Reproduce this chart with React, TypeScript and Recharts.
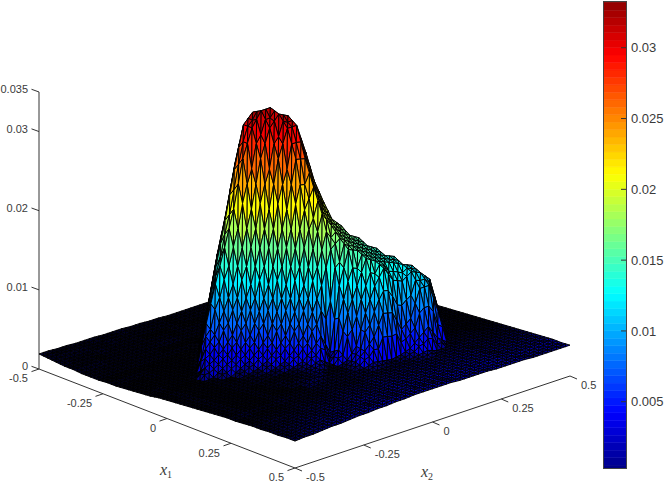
import React from "react";
import { ScatterChart, Scatter, XAxis, YAxis, ReferenceLine, BarChart, Bar } from "recharts";

// Surface heights in units of 1e-4, row = x1 index (-0.5..0.5), column = x2 index (-0.5..0.5)
const h00 = [19,19,18,18,17,17,17,16,16,16,15,15,14,14,13,13,13,13,13,13,13,12,12,12,12,12,12,12,11,11,11];
const h01 = [18,18,18,17,17,16,16,16,15,15,15,14,14,14,13,13,13,13,13,13,13,13,13,13,12,12,12,12,12,12,12];
const h02 = [17,17,16,16,16,16,15,15,15,15,14,14,14,14,13,13,13,13,13,13,13,13,13,12,12,12,12,12,12,12,12];
const h03 = [16,16,16,16,15,15,15,15,15,15,15,15,14,14,14,14,14,14,14,14,14,14,14,14,13,13,13,13,13,13,13];
const h04 = [16,16,16,16,15,15,15,15,15,15,15,15,14,14,14,14,14,14,14,14,14,14,14,14,14,14,14,14,14,14,14];
const h05 = [15,15,15,15,15,15,15,15,15,14,14,14,14,14,14,14,14,14,14,14,14,14,14,15,15,15,15,15,15,15,15];
const h06 = [15,15,15,15,15,15,15,15,15,15,15,15,15,36,40,28,15,15,15,15,15,15,15,15,16,16,16,16,16,16,16];
const h07 = [15,15,15,15,15,15,15,15,15,15,15,20,65,92,94,74,45,16,16,16,16,16,16,16,17,17,17,17,17,17,17];
const h08 = [16,16,16,16,16,16,16,16,16,16,20,72,132,168,173,150,94,48,17,17,17,17,17,18,18,18,18,18,18,18,18];
const h09 = [16,16,16,16,17,17,17,17,17,20,72,132,187,247,270,218,159,95,47,18,18,18,18,18,18,19,19,19,19,19,19];
const h10 = [17,17,17,17,18,18,18,18,20,72,132,187,247,300,312,286,223,157,92,45,19,19,19,19,20,20,20,20,20,20,20];
const h11 = [18,18,18,19,19,19,19,20,72,118,160,205,265,300,318,318,283,216,150,79,35,21,21,21,21,21,21,21,21,21,21];
const h12 = [19,19,20,20,20,20,21,48,62,88,118,160,205,265,300,314,308,270,183,115,60,27,23,23,22,22,22,22,22,22,22];
const h13 = [20,20,21,21,21,21,32,38,48,62,88,118,160,205,265,300,300,262,207,140,91,51,25,24,24,23,23,23,23,23,23];
const h14 = [22,22,23,23,23,23,24,32,38,48,62,88,118,160,205,265,262,230,200,164,119,81,47,26,25,25,25,25,24,24,24];
const h15 = [23,23,24,24,24,24,25,25,32,38,48,62,88,118,160,205,230,200,182,170,146,109,75,43,27,26,26,26,26,25,25];
const h16 = [24,24,25,25,25,25,26,27,29,32,38,48,62,88,118,160,200,182,170,162,155,134,99,68,40,28,27,27,27,26,26];
const h17 = [25,25,26,26,26,26,27,28,29,30,33,38,48,62,88,118,160,170,162,155,149,142,123,92,63,36,28,28,28,27,27];
const h18 = [26,26,27,27,27,27,28,28,29,30,31,34,38,48,62,38,118,160,155,149,142,137,132,113,85,58,31,29,29,28,28];
const h19 = [27,27,28,28,28,28,29,29,30,31,32,33,36,40,32,45,88,118,149,142,137,132,126,121,104,73,33,30,30,29,29];
const h20 = [28,28,29,29,29,29,30,30,30,32,33,34,36,32,32,36,50,88,118,137,118,113,121,116,104,60,31,31,30,30,30];
const h21 = [29,29,30,30,30,30,31,31,31,31,35,35,33,33,33,38,48,62,88,85,60,70,104,104,67,32,32,32,31,31,31];
const h22 = [30,30,31,31,31,31,32,32,32,32,33,33,33,33,34,34,38,36,34,36,40,50,60,42,33,33,33,33,32,32,32];
const h23 = [30,30,31,31,31,31,32,32,32,32,33,33,33,33,34,34,34,34,34,34,36,38,34,34,34,34,34,33,33,33,33];
const h24 = [31,31,32,32,32,32,33,33,33,33,34,34,34,34,35,35,35,35,35,35,35,35,35,35,35,34,34,34,34,34,34];
const h25 = [32,32,33,33,33,33,34,34,34,34,35,35,35,35,36,36,36,36,36,36,36,36,36,36,36,35,35,35,35,35,35];
const h26 = [32,32,33,33,34,34,34,35,35,35,36,36,36,36,37,37,37,37,37,37,37,37,37,37,37,36,36,36,36,36,36];
const h27 = [33,33,34,34,35,35,35,36,36,36,37,37,37,37,38,38,38,38,38,38,38,38,38,38,38,37,37,37,37,37,37];
const h28 = [33,33,34,35,35,36,36,36,37,37,37,38,38,38,39,39,39,39,39,39,39,39,39,39,39,38,38,38,38,38,38];
const h29 = [34,34,35,36,36,37,37,38,38,39,39,40,40,40,41,41,41,41,40,40,40,40,39,39,39,39,38,38,38,38,38];
const h30 = [34,35,35,36,37,37,38,39,39,40,40,41,41,42,42,42,42,42,41,41,41,41,40,40,40,40,39,39,39,39,39];
const heightRows = [h00,h01,h02,h03,h04,h05,h06,h07,h08,h09,h10,h11,h12,h13,h14,h15,h16,h17,h18,h19,h20,h21,h22,h23,h24,h25,h26,h27,h28,h29,h30];

const x1Ticks = [-0.5, -0.25, 0, 0.25, 0.5];
const x2Ticks = [-0.5, -0.25, 0, 0.25, 0.5];
const zTicks = [0, 0.01, 0.02, 0.03, 0.035];
const colorTicks = [0.005, 0.01, 0.015, 0.02, 0.025, 0.03];
const colorMin = 0.00032;
const colorMax = 0.0333;
const levels = 64;

const project = (x1: number, x2: number, z: number) => ({
  x: 39 + 256 * (x1 + 0.5) + 275 * (x2 + 0.5),
  y: 369 + 99 * (x1 + 0.5) - 92 * (x2 + 0.5) - 7915 * z,
});

const clamp = (v: number) => Math.max(0, Math.min(1, v));
const jet = (t: number) => [
  clamp(Math.min(4 * t - 1.5, -4 * t + 4.5)),
  clamp(Math.min(4 * t - 0.5, -4 * t + 3.5)),
  clamp(Math.min(4 * t + 0.5, -4 * t + 2.5)),
];
const levelColor = (l: number, f = 1) => {
  const c = jet((l + 0.5) / levels);
  return `rgb(${Math.round(c[0] * 255 * f)},${Math.round(c[1] * 255 * f)},${Math.round(c[2] * 255 * f)})`;
};

type V = { x: number; y: number; z: number };
type Sub = { off: number[][]; fill: string };
type Face = { x: number; y: number; subs: Sub[]; key: number };
const n = heightRows.length - 1;
const vertex = (i: number, j: number): V => {
  const z = heightRows[i][j] * 1e-4;
  return { ...project(-0.5 + i / n, -0.5 + j / n, z), z };
};
const mid = (a: V, b: V): V => ({ x: (a.x + b.x) / 2, y: (a.y + b.y) / 2, z: (a.z + b.z) / 2 });
const makeFace = (a: V, b: V, c: V, key: number): Face => {
  const cx = (a.x + b.x + c.x) / 3;
  const cy = (a.y + b.y + c.y) / 3;
  const ab = mid(a, b), bc = mid(b, c), ca = mid(c, a);
  const subs = [[a, ab, ca], [ab, b, bc], [ca, bc, c], [ab, bc, ca]].map((t) => {
    const z = (t[0].z + t[1].z + t[2].z) / 3;
    const l = Math.max(0, Math.min(levels - 1, Math.floor(((z - colorMin) / (colorMax - colorMin)) * levels)));
    const area = Math.abs((t[1].x - t[0].x) * (t[2].y - t[0].y) - (t[2].x - t[0].x) * (t[1].y - t[0].y)) / 2;
    const fFlat = 0.12 + clamp((z - 0.0031) / 0.0008) * 0.75;
    const f = Math.max(fFlat, clamp(0.25 + (area - 8) / 14));
    return { off: t.map((p) => [p.x - cx, p.y - cy]), fill: levelColor(l, f) };
  });
  return { x: cx, y: cy, subs, key };
};
const faces: Face[] = [];
for (let i = 0; i < n; i++) {
  for (let j = 0; j < n; j++) {
    const p00 = vertex(i, j), p10 = vertex(i + 1, j), p01 = vertex(i, j + 1), p11 = vertex(i + 1, j + 1);
    faces.push(makeFace(p00, p10, p01, i - j));
    faces.push(makeFace(p10, p11, p01, i - j));
  }
}
faces.sort((a, b) => a.key - b.key);

const FaceShape = (p: any) => {
  const { cx, cy, payload } = p;
  return (
    <g>
      {payload.subs.map((s: Sub, idx: number) => (
        <polygon
          key={idx}
          points={s.off.map((o) => `${cx + o[0]},${cy + o[1]}`).join(" ")}
          fill={s.fill}
          stroke="#000"
          strokeWidth={0.95}
          strokeLinejoin="round"
        />
      ))}
    </g>
  );
};

const txt = "#3a3a3a";
const labelFont = "'Liberation Sans', Arial, sans-serif";
type Lab = { x: number; y: number; text: string; anchor: string };
const zLabels: Lab[] = zTicks.map((v) => {
  const p = project(-0.5, -0.5, v);
  return { x: p.x - 11, y: p.y - 3, text: String(v), anchor: "end" };
});
const x1Labels: Lab[] = x1Ticks.map((v) => {
  const p = project(v, -0.5, 0);
  return { x: p.x - 11, y: p.y + 9.5, text: String(v), anchor: "end" };
});
const x2Labels: Lab[] = x2Ticks.map((v) => {
  const p = project(0.5, v, 0);
  return { x: p.x + 11, y: p.y + 9.5, text: String(v), anchor: "start" };
});

const TextShape = (p: any) => (
  <text x={p.cx} y={p.cy} dy="0.36em" textAnchor={p.payload.anchor} fontFamily={labelFont} fontSize={11} fill={txt}>
    {p.payload.text}
  </text>
);
const axisNames = [
  { x: 160, y: 470, base: "x", sub: "1" },
  { x: 421, y: 472, base: "x", sub: "2" },
];
const NameShape = (p: any) => (
  <text x={p.cx} y={p.cy} dy="0.3em" fontFamily="'Liberation Serif', serif" fontStyle="italic" fontSize={16} fill={txt}>
    {p.payload.base}
    <tspan dy="3" fontSize={10} fontStyle="normal">{p.payload.sub}</tspan>
  </text>
);

const seg = (a: { x: number; y: number }, b: { x: number; y: number }, k: string) => (
  <ReferenceLine
    key={k}
    segment={[{ x: a.x, y: a.y }, { x: b.x, y: b.y }]}
    stroke="#333"
    strokeWidth={1}
    ifOverflow="visible"
  />
);
const shift = (p: { x: number; y: number }, dx: number, dy: number) => ({ x: p.x + dx, y: p.y + dy });

const barRow: Record<string, number | string> = { name: "c" };
for (let l = 0; l < levels; l++) barRow[`c${l}`] = 0.0337 / levels;

const ColorTick = (p: any) => (
  <g>
    <line x1={p.x - 13} x2={p.x - 8} y1={p.y} y2={p.y} stroke="#333" />
    <text x={p.x - 3} y={p.y} dy="0.36em" fontFamily={labelFont} fontSize={13} fill={txt}>
      {p.payload.value}
    </text>
  </g>
);

export default function App() {
  return (
    <div style={{ position: "absolute", left: 0, top: 0, width: 664, height: 482, background: "#fff" }}>
      <div style={{ position: "absolute", left: 0, top: 0 }}>
        <ScatterChart width={664} height={482} margin={{ top: 0, right: 0, bottom: 0, left: 0 }}>
          <XAxis type="number" dataKey="x" domain={[0, 664]} hide allowDataOverflow />
          <YAxis type="number" dataKey="y" domain={[0, 482]} reversed hide allowDataOverflow />
          {seg(project(-0.5, -0.5, 0), project(-0.5, -0.5, 0.035), "zaxis")}
          {seg(project(-0.5, -0.5, 0), project(0.5, -0.5, 0), "x1axis")}
          {seg(project(0.5, -0.5, 0), project(0.5, 0.5, 0), "x2axis")}
          {zTicks.map((v) => seg(project(-0.5, -0.5, v), shift(project(-0.5, -0.5, v), -7.5, -2.7), `zt${v}`))}
          {x1Ticks.map((v) => seg(project(v, -0.5, 0), shift(project(v, -0.5, 0), -7.5, 2.6), `x1t${v}`))}
          {x2Ticks.map((v) => seg(project(0.5, v, 0), shift(project(0.5, v, 0), 7, 3), `x2t${v}`))}
          <Scatter data={faces} shape={FaceShape} isAnimationActive={false} />
          <Scatter data={zLabels} shape={TextShape} isAnimationActive={false} />
          <Scatter data={x1Labels} shape={TextShape} isAnimationActive={false} />
          <Scatter data={x2Labels} shape={TextShape} isAnimationActive={false} />
          <Scatter data={axisNames} shape={NameShape} isAnimationActive={false} />
        </ScatterChart>
      </div>
      <div style={{ position: "absolute", left: 604, top: 0 }}>
        <BarChart width={60} height={482} data={[barRow]} barCategoryGap={0} margin={{ top: 1, right: 0, bottom: 14, left: 0 }}>
          <XAxis dataKey="name" hide />
          <YAxis
            orientation="right"
            type="number"
            width={38}
            domain={[colorMin, colorMax]}
            allowDataOverflow
            ticks={colorTicks}
            axisLine={false}
            tickLine={false}
            tick={ColorTick}
            interval={0}
          />
          {Array.from({ length: levels }, (_, l) => (
            <Bar key={l} dataKey={`c${l}`} stackId="s" fill={levelColor(l)} stroke={levelColor(l)} strokeWidth={0.5} isAnimationActive={false} />
          ))}
        </BarChart>
      </div>
      <div style={{ position: "absolute", left: 603, top: 1, width: 22, height: 466, border: "1px solid #444", pointerEvents: "none" }} />
    </div>
  );
}
